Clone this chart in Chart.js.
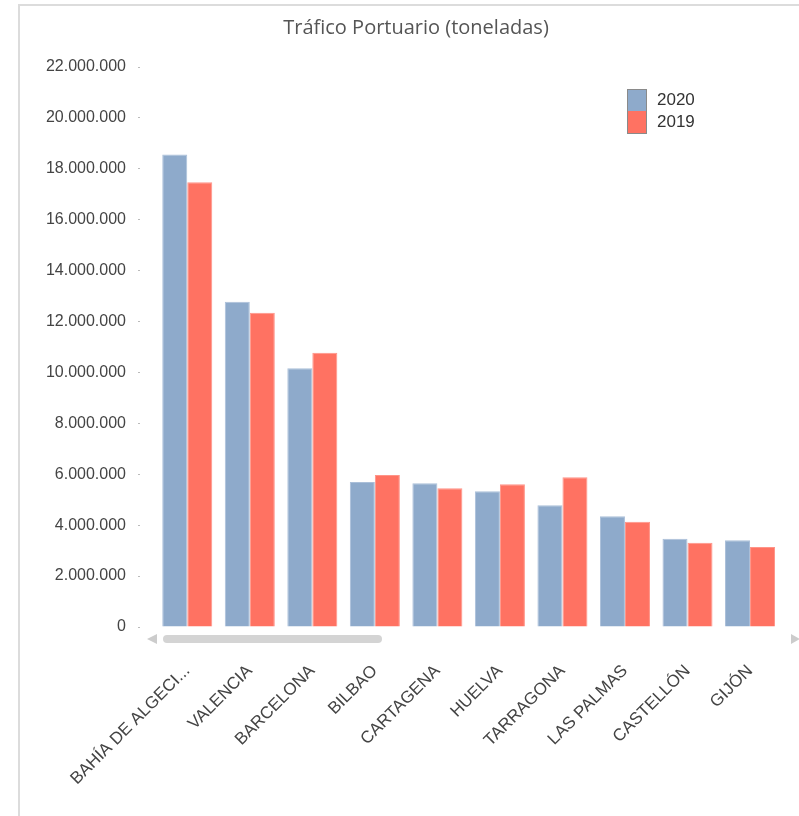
<!DOCTYPE html>
<html>
<head>
<meta charset="utf-8">
<script src="https://cdn.jsdelivr.net/npm/chart.js@4/dist/chart.umd.min.js"></script>
<style>
    body { margin:0; background:#fff; }
    #frame { position:absolute; left:18px; top:4px; width:781px; height:812px; border-top:2px solid #dcdcdc; border-left:2px solid #dcdcdc; box-sizing:border-box; }
    #chart { position:absolute; left:0; top:0; }
</style>
</head>
<body>
<div id="frame"></div>
<canvas id="chart" width="799" height="816"></canvas>
<script>
const CATEGORIES = ['BAHÍA DE ALGECIRAS','VALENCIA','BARCELONA','BILBAO','CARTAGENA','HUELVA','TARRAGONA','LAS PALMAS','CASTELLÓN','GIJÓN'];
const VALUES_2020 = [18560000,12780000,10170000,5700000,5650000,5330000,4780000,4350000,3470000,3410000];
const VALUES_2019 = [17470000,12350000,10770000,5970000,5450000,5610000,5880000,4130000,3310000,3140000];
const SERIES_LABELS = ['2020','2019'];
const Y_MAX = 22000000;
const Y_STEP = 2000000;

const COLORS = ['#8eaacb','#ff7262'];
const BORDERS = ['#aabfd9','#ff9488'];
const SANS = '"Liberation Sans", Arial, sans-serif';

const fmt = v => String(v).replace(/\B(?=(\d{3})+(?!\d))/g, '.');
const shortLabel = s => s.length > 15 ? s.slice(0,15) + '...' : s;

// legend box + fake scrollbar, drawn on top
const decorPlugin = {
    id:'decor',
    afterDraw(chart) {
        const ctx = chart.ctx;
        const a = chart.chartArea;
        ctx.save();
        // scrollbar
        ctx.fillStyle = '#d4d4d4';
        ctx.beginPath();
        ctx.roundRect(163, a.bottom + 8, 219, 8, 4);
        ctx.fill();
        ctx.fillStyle = '#cccccc';
        ctx.beginPath();
        ctx.moveTo(157, a.bottom + 7); ctx.lineTo(147, a.bottom + 12); ctx.lineTo(157, a.bottom + 17);
        ctx.fill();
        ctx.beginPath();
        ctx.moveTo(791, a.bottom + 7); ctx.lineTo(800, a.bottom + 12); ctx.lineTo(791, a.bottom + 17);
        ctx.fill();
        // legend
        const lx = 627, ly = 89;
        ctx.font = '17px ' + SANS;
        ctx.textBaseline = 'middle';
        chart.data.datasets.forEach((ds, i) => {
            const y = ly + i * 22;
            ctx.fillStyle = ds.backgroundColor;
            ctx.fillRect(lx, y, 19, 22);
            ctx.fillStyle = '#333';
            ctx.fillText(ds.label, lx + 30, y + 11);
        });
        ctx.strokeStyle = '#8a8a8a';
        ctx.lineWidth = 1;
        ctx.strokeRect(lx + 0.5, ly + 0.5, 19, 44);
        ctx.restore();
    }
};

new Chart(document.getElementById('chart'), {
    type:'bar',
    data:{
        labels: CATEGORIES,
        datasets:[
            {label:SERIES_LABELS[0], data:VALUES_2020, backgroundColor:COLORS[0], borderColor:BORDERS[0], borderWidth:1},
            {label:SERIES_LABELS[1], data:VALUES_2019, backgroundColor:COLORS[1], borderColor:BORDERS[1], borderWidth:1}
        ]
    },
    options:{
        responsive:false,
        animation:false,
        layout:{padding:{left:44, right:11, top:0, bottom:0}},
        datasets:{bar:{categoryPercentage:0.8, barPercentage:1.0}},
        plugins:{
            legend:{display:false},
            tooltip:{enabled:false},
            title:{
                display:true,
                text:'Tráfico Portuario (toneladas)',
                color:'#555',
                font:{family:'"Open Sans", sans-serif', size:20, weight:'normal'},
                padding:{top:16, bottom:27}
            }
        },
        scales:{
            x:{
                grid:{display:false, drawTicks:false},
                border:{display:false},
                afterFit(scale) { scale.height = 189; },
                ticks:{
                    color:'#444',
                    font:{family:SANS, size:17},
                    minRotation:45, maxRotation:45,
                    padding:34,
                    autoSkip:false,
                    callback(v) { return shortLabel(this.getLabelForValue(v)); }
                }
            },
            y:{
                min:0, max:Y_MAX,
                grid:{drawOnChartArea:false, drawTicks:true, tickLength:18, color:'#bbb', tickBorderDash:[2,100]},
                border:{display:false},
                afterFit(scale) { scale.width = 112; },
                ticks:{
                    stepSize:Y_STEP,
                    color:'#444',
                    padding:12,
                    font:{family:SANS, size:16},
                    callback:v => fmt(v)
                }
            }
        }
    },
    plugins:[decorPlugin]
});
</script>
</body>
</html>
